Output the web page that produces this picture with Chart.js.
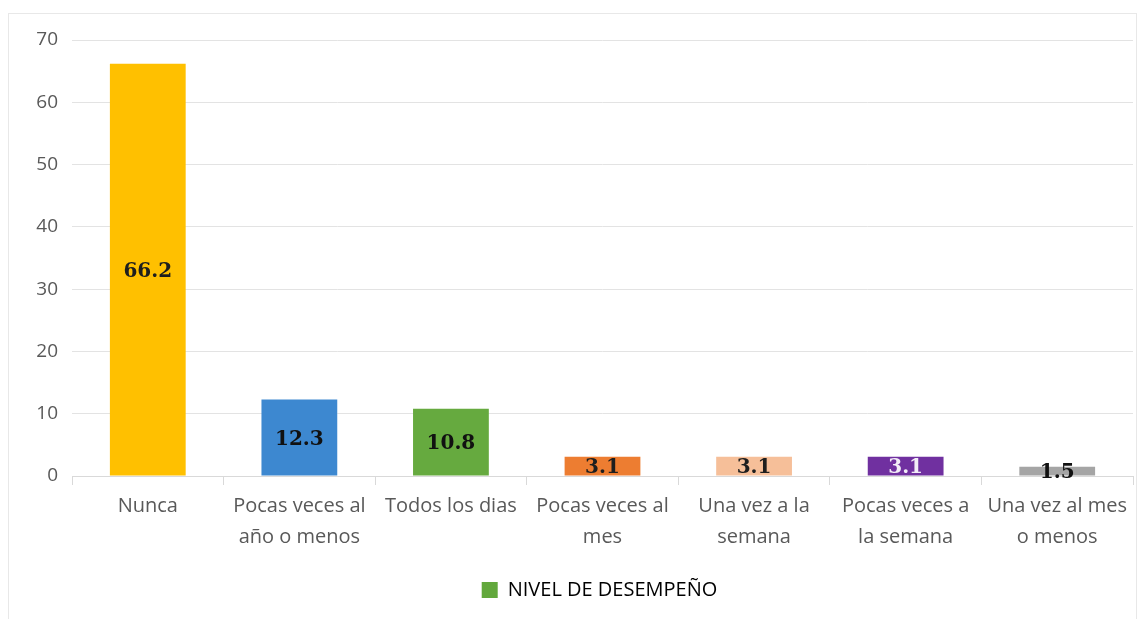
<!DOCTYPE html>
<html>
<head>
<meta charset="utf-8">
<script src="https://cdn.jsdelivr.net/npm/chart.js@4/dist/chart.umd.min.js"></script>
<style>
  html, body { margin: 0; padding: 0; background: #ffffff; }
  body { width: 1146px; height: 619px; position: relative; overflow: hidden; }
  #frame { position: absolute; left: 8px; top: 13px; width: 1129px; height: 640px; border: 1px solid #e8e8e8; box-sizing: border-box; }
  #c { position: absolute; left: 0; top: 0; }
</style>
</head>
<body>
<div id="frame"></div>
<canvas id="c" width="1146" height="619"></canvas>
<script>
const categories = [
  ["Nunca"],
  ["Pocas veces al", "año o menos"],
  ["Todos los dias"],
  ["Pocas veces al", "mes"],
  ["Una vez a la", "semana"],
  ["Pocas veces a", "la semana"],
  ["Una vez al mes", "o menos"]
];
const values = [66.2, 12.3, 10.8, 3.1, 3.1, 3.1, 1.5];
const valueLabels = ["66.2", "12.3", "10.8", "3.1", "3.1", "3.1", "1.5"];
const seriesName = "NIVEL DE DESEMPEÑO";
const yTickValues = [0, 10, 20, 30, 40, 50, 60, 70];

const barColors = ["#FFC000", "blue", "green", "#ED7D31", "#F6BF99", "#7030A0", "#A5A5A5"];
const labelColors = ["#1e1e1e", "#111", "#111", "#1e1e1e", "#1e1e1e", "#f2ecf7", "#111"];

function barFill(context) {
  const chart = context.chart;
  const i = context.dataIndex;
  const c = barColors[i];
  if (c !== "blue" && c !== "green") return c;
  const el = context.element;
  const fallback = c === "blue" ? "#3D88D0" : "#66AA3F";
  if (!chart.chartArea || !el) return fallback;
  const top = el.y, bottom = el.base;
  if (!isFinite(top) || !isFinite(bottom)) return fallback;
  const g = chart.ctx.createLinearGradient(0, top, 0, bottom);
  if (c === "blue") { g.addColorStop(0, "#49A0EA"); g.addColorStop(1, "#2B6BA9"); }
  else { g.addColorStop(0, "#7BC354"); g.addColorStop(1, "#4F952E"); }
  return g;
}

const valueLabelPlugin = {
  id: "valueLabels",
  afterLayout(chart) {
    if (chart.legend) { chart.legend.left += 29; chart.legend.right += 29; }
  },
  afterDatasetsDraw(chart) {
    const ctx = chart.ctx;
    const meta = chart.getDatasetMeta(0);
    ctx.save();
    ctx.font = "bold 20px 'DejaVu Serif'";
    ctx.textAlign = "center";
    ctx.textBaseline = "middle";
    meta.data.forEach((bar, i) => {
      const p = bar.getProps(["x", "y", "base"], true);
      ctx.fillStyle = labelColors[i];
      ctx.fillText(valueLabels[i], p.x, (p.y + p.base) / 2 + 2);
    });
    ctx.restore();
  }
};

new Chart(document.getElementById("c"), {
  type: "bar",
  data: {
    labels: categories,
    datasets: [{
      label: seriesName,
      data: values,
      backgroundColor: barFill,
      borderWidth: 0,
      categoryPercentage: 1.0,
      barPercentage: 0.5
    }]
  },
  options: {
    responsive: false,
    animation: false,
    layout: { padding: { left: 8, right: 13, top: 40, bottom: 9 } },
    plugins: {
      tooltip: { enabled: false },
      legend: {
        position: "bottom",
        labels: {
          boxWidth: 16,
          boxHeight: 16,
          padding: 10,
          color: "#595959",
          font: { family: "'Open Sans'", size: 20 },
          generateLabels(chart) {
            return [{
              text: seriesName,
              fillStyle: "#62A83C",
              strokeStyle: "#62A83C",
              lineWidth: 0,
              hidden: false,
              datasetIndex: 0
            }];
          }
        }
      }
    },
    scales: {
      x: {
        grid: {
          offset: true,
          drawOnChartArea: false,
          drawTicks: true,
          tickLength: 9,
          color: "#d9d9d9"
        },
        border: { display: true, color: "#d9d9d9", width: 1 },
        ticks: {
          color: "#595959",
          font: { family: "'Open Sans'", size: 20, lineHeight: 1.55 },
          padding: 6,
          maxRotation: 0,
          autoSkip: false
        },
        afterFit(scale) { scale.height = 94; }
      },
      y: {
        min: 0,
        max: 70,
        afterBuildTicks(scale) { scale.ticks = yTickValues.map(v => ({ value: v })); },
        grid: { color: "#e3e3e3", drawTicks: false, lineWidth: 1 },
        border: { display: false },
        ticks: {
          color: "#595959",
          font: { family: "'Open Sans'", size: 19 },
          padding: 14
        },
        afterFit(scale) { scale.width = 64; }
      }
    }
  },
  plugins: [valueLabelPlugin]
});
</script>
</body>
</html>
